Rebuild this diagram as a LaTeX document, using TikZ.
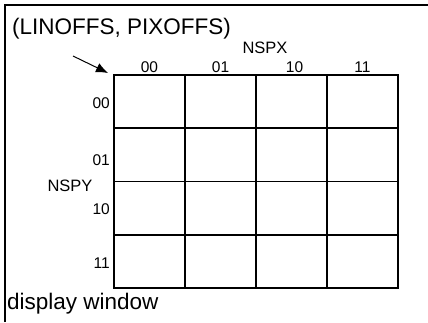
\documentclass[tikz,border=0pt]{standalone}
\usepackage{fontspec}
\setmainfont{Liberation Sans}
\usetikzlibrary{positioning, arrows.meta}
\definecolor{clrgrid}{HTML}{000000}
\definecolor{clrtext}{HTML}{000000}

\begin{document}
\begin{tikzpicture}[
    x=1pt, y=-1pt,
    cell/.style={draw=clrgrid, line width=1.8pt, minimum width=71pt,
                 minimum height=53.25pt, inner sep=0, outer sep=0},
    idx/.style={font=\fontsize{15.5}{17}\selectfont, text=clrtext, inner sep=0},
    axis/.style={font=\fontsize{16.5}{18}\selectfont, text=clrtext, inner sep=0},
    caption/.style={font=\fontsize{22.5}{25}\selectfont, text=clrtext, inner sep=0},
    arrow/.style={-{Latex[length=12pt, width=10pt]}, line width=1pt, color=clrgrid},
]
\useasboundingbox (0,0) rectangle (428,322);
\draw[color=clrgrid, line width=2pt] (5,322) -- (5,4.5) -- (428,4.5);
\node[caption, anchor=base west] (title) at (12,34) {(LINOFFS, PIXOFFS)};
\node[caption, anchor=base west] (window) at (7,309) {display window};
% grid of cells
\node[cell] (c_1_1) at (149.5,101.625) {};
\node[cell, right=0pt of c_1_1] (c_1_2) {};
\node[cell, right=0pt of c_1_2] (c_1_3) {};
\node[cell, right=0pt of c_1_3] (c_1_4) {};
\node[cell, below=0pt of c_1_1] (c_2_1) {};
\node[cell, right=0pt of c_2_1] (c_2_2) {};
\node[cell, right=0pt of c_2_2] (c_2_3) {};
\node[cell, right=0pt of c_2_3] (c_2_4) {};
\node[cell, below=0pt of c_2_1] (c_3_1) {};
\node[cell, right=0pt of c_3_1] (c_3_2) {};
\node[cell, right=0pt of c_3_2] (c_3_3) {};
\node[cell, right=0pt of c_3_3] (c_3_4) {};
\node[cell, below=0pt of c_3_1] (c_4_1) {};
\node[cell, right=0pt of c_4_1] (c_4_2) {};
\node[cell, right=0pt of c_4_2] (c_4_3) {};
\node[cell, right=0pt of c_4_3] (c_4_4) {};
% column indices
\node[idx, above=2pt of c_1_1] (x_1) {00};
\node[idx, above=2pt of c_1_2] (x_2) {01};
\node[idx, above=2pt of c_1_3, xshift=3pt] (x_3) {10};
\node[idx, above=2pt of c_1_4] (x_4) {11};
\node[axis, anchor=base] (nspx) at (265,53) {NSPX};
% row indices
\node[idx, left=4pt of c_1_1, yshift=-2pt] (y_1) {00};
\node[idx, left=4pt of c_2_1, yshift=-5pt] (y_2) {01};
\node[idx, left=4pt of c_3_1, yshift=-1pt] (y_3) {10};
\node[idx, left=4pt of c_4_1, yshift=-1.5pt] (y_4) {11};
\node[axis, anchor=base] (nspy) at (70,191) {NSPY};
% offset arrow
\coordinate (arr_tail) at (73,56);
\draw[arrow] (arr_tail) -- ([shift={(-6,-2)}]c_1_1.north west);
\end{tikzpicture}
\end{document}
